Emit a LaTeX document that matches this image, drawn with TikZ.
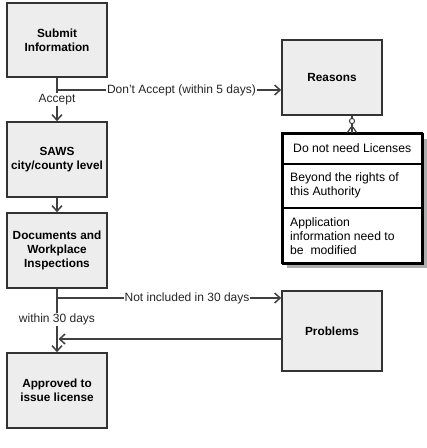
\documentclass[tikz,border=0pt]{standalone}
\usepackage{fontspec}
\setmainfont{Liberation Sans}
\usetikzlibrary{arrows.meta,calc}
\definecolor{boxfill}{HTML}{EDEDED}
\definecolor{boxline}{HTML}{333333}
\definecolor{conn}{HTML}{404040}
\definecolor{shadowc}{HTML}{ADADAD}
\tikzset{
  procbox/.style={draw=boxline, fill=boxfill, line width=1.6pt, minimum width=100pt, minimum height=75pt, align=center, inner sep=0pt, font=\bfseries\fontsize{11.8}{14}\selectfont},
  rowbox/.style={draw=black, fill=white, line width=1.6pt, minimum width=140pt, anchor=north west, inner sep=0pt},
  rowtext/.style={anchor=west, align=left, font=\fontsize{12.2}{14}\selectfont, inner sep=0pt},
  arr/.style={draw=conn, line width=1.5pt, -{Straight Barb[length=5.5pt,width=10pt,line width=1.5pt]}},
  ln/.style={draw=conn, line width=1.5pt},
  lbl/.style={fill=white, inner sep=1pt, font=\fontsize{12}{13}\selectfont, text=black!85}
}
\begin{document}
\begin{tikzpicture}[x=1pt,y=-1pt]
\useasboundingbox (0,0) rectangle (427,448);
% process boxes
\node[procbox, minimum height=74pt] (submit) at (57,40) {Submit\\Information};
\node[procbox] (saws) at (57,159.5) {SAWS\\city/county level};
\node[procbox] (docs) at (57,250.5) {Documents and\\Workplace\\Inspections};
\node[procbox] (approved) at (57,390.5) {Approved to\\issue license};
\node[procbox] (reasons) at (332,77.5) {Reasons};
\node[procbox, minimum height=80pt] (problems) at (332,331) {Problems};
% list with shadow
\fill[shadowc] (287,139) rectangle (427,268);
\node[rowbox, minimum height=30pt] (r1) at (282,133) {};
\node[rowbox, minimum height=44pt] (r2) at (282,163) {};
\node[rowbox, minimum height=56pt] (r3) at (282,207) {};
\draw[black, line width=1.6pt] (282,133) rectangle (422,263);
\node[rowtext] (t1) at (293,148) {Do not need Licenses};
\node[rowtext] (t2) at (290,185) {Beyond the rights of\\this Authority};
\node[rowtext] (t3) at (290,236) {Application\\information need to\\be~ modified};
% connectors
\coordinate (j1) at (57,90);
\draw[ln] (submit.south) -- (j1);
\draw[arr] (j1) -- (saws.north) node[lbl, pos=0.30] {Accept};
\draw[arr] (j1) -- (j1 -| reasons.west) node[lbl, pos=0.555] {Don't Accept (within 5 days)};
\draw[arr] (saws.south) -- (docs.north);
\coordinate (j2) at (57,298);
\draw[ln] (docs.south) -- (j2);
\draw[arr] (j2) -- (approved.north) node[lbl, pos=0.40] {within 30 days};
\draw[arr] (j2) -- (j2 -| problems.west) node[lbl, pos=0.58] {Not included in 30 days};
\coordinate (j3) at (58.5,339);
\draw[arr] (j3 -| problems.west) -- (j3);
% crow's foot connector
\coordinate (cf) at (352,126);
\draw[conn, line width=1.2pt] ($(reasons.south)+(20,0)$) -- ($(r1.north west)+(70,0)$);
\draw[conn, line width=1.2pt] (cf) -- (347,133) (cf) -- (357,133);
\draw[conn, line width=1pt, fill=white] (352,121) circle (2.6pt);
\end{tikzpicture}
\end{document}
